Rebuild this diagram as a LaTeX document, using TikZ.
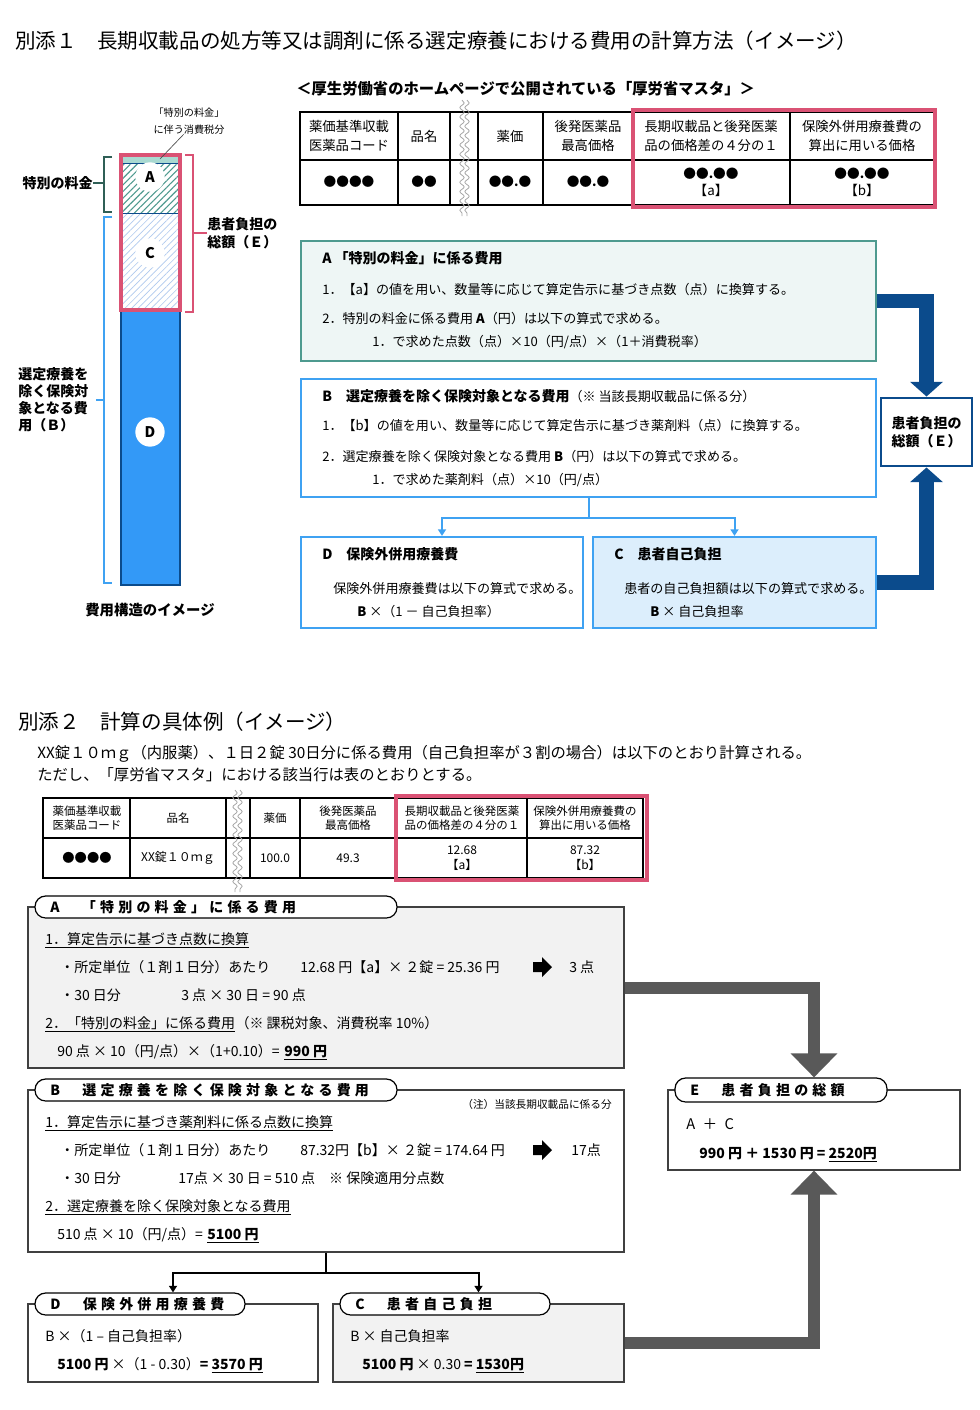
\documentclass[tikz,border=0pt]{standalone}
\usepackage{fontspec}
\setmainfont{Noto Sans CJK JP}
\usetikzlibrary{arrows.meta, positioning, fit, patterns.meta, decorations.pathmorphing}

\definecolor{tealline}{HTML}{4E9A8F}
\definecolor{tealfill}{HTML}{EEF6F5}
\definecolor{tealdark}{HTML}{2F5F56}
\definecolor{tealstrip}{HTML}{A9D9D1}
\definecolor{skyline}{HTML}{3FA2F2}
\definecolor{skyfill}{HTML}{DCEEFC}
\definecolor{skyhatch}{HTML}{AFC9EE}
\definecolor{navy}{HTML}{0B4B8C}
\definecolor{barblue}{HTML}{3399F7}
\definecolor{rose}{HTML}{DA5274}
\definecolor{arrowgray}{HTML}{595959}
\definecolor{panelgray}{HTML}{F2F2F2}

\newcommand\fsz[2]{\fontsize{#1}{#2}\selectfont}

\begin{document}
\begin{tikzpicture}[
  x=0.75pt, y=-0.75pt,
  txt/.style={anchor=base west, inner sep=0pt},
  body/.style={txt, font=\fsz{9.8}{12}},
  head/.style={txt, font=\fsz{10.5}{12}\bfseries},
  lowtxt/.style={txt, font=\fsz{10.5}{12}},
  cell/.style={align=center, inner sep=0pt, font=\fsz{10}{14}},
  smallcell/.style={align=center, inner sep=0pt, font=\fsz{8.6}{11}},
  grid/.style={draw=black, line width=0.8pt},
  wavy/.style={draw=gray!70, line width=0.6pt, decorate,
               decoration={snake, amplitude=1.6pt, segment length=7pt}},
  pinkframe/.style={draw=rose, line width=3pt, inner sep=0pt},
  topbox/.style={draw=skyline, line width=1.6pt, inner sep=0pt},
  lowbox/.style={draw=black!75, line width=0.9pt, inner sep=0pt},
  pill/.style={draw=black, line width=0.9pt, fill=white, rounded corners=8pt, inner sep=0pt},
  pilltext/.style={txt, font=\fsz{10.5}{12}\bfseries\addfontfeatures{LetterSpace=30}},
  letter/.style={circle, fill=white, minimum size=22pt, inner sep=0pt, font=\fsz{11}{12}\bfseries},
  navyarrow/.style={draw=navy, line width=11pt, line join=miter, -{Triangle[length=11pt, width=24pt]}},
  grayarrow/.style={draw=arrowgray, line width=9pt, line join=miter, -{Triangle[length=18pt, width=34pt]}},
  skyconn/.style={draw=skyline, line width=1.5pt},
  skytip/.style={skyconn, -{Triangle[length=5pt, width=6pt]}},
  blkconn/.style={draw=black, line width=1.5pt},
  blktip/.style={blkconn, -{Triangle[length=5pt, width=6pt]}}
]

\fill[white] (0,0) rectangle (980,1410);
\useasboundingbox (0,0) rectangle (980,1410);

% ---------- 別添1 ----------
\node[txt, font=\fsz{15.4}{18}] (title1) at (15,48)
  {別添１　長期収載品の処方等又は調剤に係る選定療養における費用の計算方法（イメージ）};
\node[txt, font=\fsz{11.5}{14}\bfseries] (master) at (296,94)
  {＜厚生労働省のホームページで公開されている「厚労省マスタ」＞};

% master table
\draw[grid] (300,112) rectangle (935,205);
\draw[grid] (300,160) -- (935,160);
\foreach \x in {398,450,478,543,633,790}
  \draw[grid] (\x,112) -- (\x,205);
\foreach \x in {462,467}
  \draw[wavy] (\x,100) -- (\x,216);
\node[cell] (h1) at (349,136) {薬価基準収載\\医薬品コード};
\node[cell] (h2) at (424,136) {品名};
\node[cell] (h3) at (510,136) {薬価};
\node[cell] (h4) at (588,136) {後発医薬品\\最高価格};
\node[cell] (h5) at (711,136) {長期収載品と後発医薬\\品の価格差の４分の１};
\node[cell] (h6) at (862,136) {保険外併用療養費の\\算出に用いる価格};
\node[cell, font=\fsz{9.5}{14}\bfseries] (d1) at (349,182) {●●●●};
\node[cell, font=\fsz{9.5}{14}\bfseries] (d2) at (424,182) {●●};
\node[cell, font=\fsz{9.5}{14}\bfseries] (d3) at (510,182) {●●.●};
\node[cell, font=\fsz{9.5}{14}\bfseries] (d4) at (588,182) {●●.●};
\node[cell, font=\fsz{9.5}{13}\bfseries] (d5) at (711,182) {●●.●●\\{\mdseries\fsz{10}{12}【a】}};
\node[cell, font=\fsz{9.5}{13}\bfseries] (d6) at (862,182) {●●.●●\\{\mdseries\fsz{10}{12}【b】}};
\node[pinkframe, fit={(633,110) (935,207)}] (masterpink) {};

% cost bar
\fill[barblue] (121,310) rectangle (180,585);
\draw[navy, line width=0.8pt] (121,310) rectangle (180,585);
\fill[pattern={Lines[angle=45, distance=3.5pt, line width=0.5pt]}, pattern color=skyhatch]
  (121,213) rectangle (180,310);
\fill[pattern={Lines[angle=45, distance=3.5pt, line width=0.8pt]}, pattern color=tealline]
  (121,163) rectangle (180,213);
\fill[tealstrip] (121,155) rectangle (180,163);
\draw[navy, line width=0.6pt] (121,163) -- (180,163) (121,213) -- (180,213);
\draw[rose, line width=3pt] (121,155) rectangle (180,310);
\node[letter] (barA) at (150,177) {A};
\node[letter] (barC) at (150,253) {C};
\node[letter] (barD) at (150,432) {D};

\node[align=center, inner sep=0pt, font=\fsz{7.6}{12.5}] (taxnote) at (189,121)
  {「特別の料金」\\に伴う消費税分};
\coordinate (stripA) at (160,159);
\draw[black!70, line width=0.5pt] ([xshift=-4pt]taxnote.south) -- (stripA);

\draw[tealdark, line width=1.5pt] (112,157) -- (104,157) -- (104,212) -- (112,212);
\node[anchor=east, inner sep=0pt, font=\fsz{10.5}{13}\bfseries] (speclabel) at (93,183) {特別の料金};
\draw[tealdark, line width=1.5pt] (speclabel.east) -- (104,183);

\draw[skyline, line width=1.5pt] (112,217) -- (104,217) -- (104,583) -- (112,583);
\node[anchor=west, align=left, inner sep=0pt, font=\fsz{10.5}{12.75}\bfseries] (blabel) at (18,400)
  {選定療養を\\除く保険対\\象となる費\\用（Ｂ）};
\draw[skyline, line width=1.5pt] (96,400) -- (104,400);

\draw[rose, line width=1.5pt] (185,155) -- (193,155) -- (193,312) -- (185,312);
\node[anchor=west, align=left, inner sep=0pt, font=\fsz{10.5}{13.5}\bfseries] (elabel) at (207,233)
  {患者負担の\\総額（Ｅ）};
\draw[rose, line width=1.5pt] (193,233) -- (elabel.west);

\node[inner sep=0pt, font=\fsz{10.8}{13}\bfseries] (barcaption) at (150,610) {費用構造のイメージ};

% boxes A, B, D, C, E
\node[topbox, draw=tealline, fill=tealfill, fit={(301,241) (876,361)}] (topA) {};
\node[head] (topAt) at (322,263) {A 「特別の料金」に係る費用};
\node[body] (topA1) at (322,294) {1．【a】の値を用い、数量等に応じて算定告示に基づき点数（点）に換算する。};
\node[body] (topA2) at (322,323) {2．特別の料金に係る費用 \textbf{A}（円）は以下の算式で求める。};
\node[body] (topA3) at (372,346) {1．で求めた点数（点）×10（円/点）×（1＋消費税率）};

\node[topbox, fill=white, fit={(301,379) (876,497)}] (topB) {};
\node[head] (topBt) at (322,401) {B　選定療養を除く保険対象となる費用{\mdseries\fsz{9.8}{12}（※ 当該長期収載品に係る分）}};
\node[body] (topB1) at (322,430) {1．【b】の値を用い、数量等に応じて算定告示に基づき薬剤料（点）に換算する。};
\node[body] (topB2) at (322,461) {2．選定療養を除く保険対象となる費用 \textbf{B}（円）は以下の算式で求める。};
\node[body] (topB3) at (372,484) {1．で求めた薬剤料（点）×10（円/点）};

\node[topbox, fill=white, fit={(301,537) (583,628)}] (topD) {};
\node[head] (topDt) at (322,559) {D　保険外併用療養費};
\node[body] (topD1) at (333,593) {保険外併用療養費は以下の算式で求める。};
\node[body] (topD2) at (357,616) {\textbf{B} ×（1 － 自己負担率）};

\node[topbox, fill=skyfill, fit={(593,537) (876,628)}] (topC) {};
\node[head] (topCt) at (614,559) {C　患者自己負担};
\node[body] (topC1) at (624,593) {患者の自己負担額は以下の算式で求める。};
\node[body] (topC2) at (650,616) {\textbf{B} × 自己負担率};

\node[topbox, draw=navy, line width=2.2pt, fill=white, fit={(881,398) (972,466)}] (topE) {};
\node[align=center, inner sep=0pt, font=\fsz{10.5}{13.5}\bfseries] (topEt) at (topE.center)
  {患者負担の\\総額（Ｅ）};

\draw[skyconn] (topB.south) -- ++(0,20) coordinate (topsplit);
\draw[skytip] (topsplit) -| (topD.north);
\draw[skytip] (topsplit) -| (topC.north);
\draw[navyarrow] (topA.east) -| (topE.north);
\draw[navyarrow] (topC.east) -| (topE.south);

% ---------- 別添2 ----------
\node[txt, font=\fsz{15.4}{18}] (title2) at (18,729) {別添２　計算の具体例（イメージ）};
\node[txt, font=\fsz{11.5}{13}] (intro1) at (37,758)
  {XX錠１０ｍｇ（内服薬）、１日２錠 30日分に係る費用（自己負担率が３割の場合）は以下のとおり計算される。};
\node[txt, font=\fsz{11.5}{13}] (intro2) at (37,780)
  {ただし、「厚労省マスタ」における該当行は表のとおりとする。};

% example table
\draw[grid] (43,798) rectangle (643,878);
\draw[grid] (43,838) -- (643,838);
\foreach \x in {130,226,250,300,397,527}
  \draw[grid] (\x,798) -- (\x,878);
\foreach \x in {235,240}
  \draw[wavy] (\x,790) -- (\x,892);
\node[smallcell] (g1) at (87,818) {薬価基準収載\\医薬品コード};
\node[smallcell] (g2) at (178,818) {品名};
\node[smallcell] (g3) at (275,818) {薬価};
\node[smallcell] (g4) at (348,818) {後発医薬品\\最高価格};
\node[smallcell] (g5) at (462,818) {長期収載品と後発医薬\\品の価格差の４分の１};
\node[smallcell] (g6) at (585,818) {保険外併用療養費の\\算出に用いる価格};
\node[smallcell, font=\fsz{9.2}{13}\bfseries] (e1) at (87,858) {●●●●};
\node[smallcell, font=\fsz{9}{11}] (e2) at (178,858) {XX錠１０ｍｇ};
\node[smallcell, font=\fsz{9}{11}] (e3) at (275,858) {100.0};
\node[smallcell, font=\fsz{9}{11}] (e4) at (348,858) {49.3};
\node[smallcell, font=\fsz{9}{11}] (e5) at (462,858) {12.68\\【a】};
\node[smallcell, font=\fsz{9}{11}] (e6) at (585,858) {87.32\\【b】};
\node[pinkframe, fit={(396,796) (647,880)}] (examplepink) {};

% box A
\node[lowbox, fill=panelgray, fit={(28,907) (624,1068)}] (lowA) {};
\node[pill, fit={(35,896) (397,918)}] (lowApill) {};
\node[pilltext] (lowAt) at (50,912) {A　「特別の料金」に係る費用};
\node[lowtxt] (lowA1) at (45,944) {\underline{1．算定告示に基づき点数に換算}};
\node[lowtxt] (lowA2) at (60,972) {・所定単位（１剤１日分）あたり};
\node[lowtxt] (lowA3) at (300,972) {12.68 円【a】× ２錠 = 25.36 円};
\node[lowtxt] (lowA4) at (569,972) {3 点};
\node[lowtxt] (lowA5) at (60,1000) {・30 日分};
\node[lowtxt] (lowA6) at (181,1000) {3 点 × 30 日 = 90 点};
\node[lowtxt] (lowA7) at (45,1028) {\underline{2．「特別の料金」に係る費用}};
\node[lowtxt] (lowA8) at (lowA7.base east) {（※ 課税対象、消費税率 10\%）};
\node[lowtxt] (lowA9) at (57,1056) {90 点 × 10（円/点）×（1+0.10）= };
\node[lowtxt, font=\fsz{10.5}{12}\bfseries] (lowA10) at ([xshift=3pt]lowA9.base east) {\underline{990 円}};

% box B
\node[lowbox, fill=white, fit={(28,1090) (624,1252)}] (lowB) {};
\node[pill, fit={(35,1079) (397,1101)}] (lowBpill) {};
\node[pilltext] (lowBt) at (50,1095) {B　選定療養を除く保険対象となる費用};
\node[anchor=base east, inner sep=0pt, font=\fsz{8}{10}] (lowBnote) at (612,1108) {（注）当該長期収載品に係る分};
\node[lowtxt] (lowB1) at (45,1127) {\underline{1．算定告示に基づき薬剤料に係る点数に換算}};
\node[lowtxt] (lowB2) at (60,1155) {・所定単位（１剤１日分）あたり};
\node[lowtxt] (lowB3) at (300,1155) {87.32円【b】× ２錠 = 174.64 円};
\node[lowtxt] (lowB4) at (571,1155) {17点};
\node[lowtxt] (lowB5) at (60,1183) {・30 日分};
\node[lowtxt] (lowB6) at (178,1183) {17点 × 30 日 = 510 点　※ 保険適用分点数};
\node[lowtxt] (lowB7) at (45,1211) {\underline{2．選定療養を除く保険対象となる費用}};
\node[lowtxt] (lowB8) at (57,1239) {510 点 × 10（円/点）= };
\node[lowtxt, font=\fsz{10.5}{12}\bfseries] (lowB9) at ([xshift=3pt]lowB8.base east) {\underline{5100 円}};

% small black arrows
\foreach \ay in {967,1150}
  \fill[black] (533,\ay-5) -- (542,\ay-5) -- (542,\ay-10) -- (552,\ay)
    -- (542,\ay+10) -- (542,\ay+5) -- (533,\ay+5) -- cycle;

% box D
\node[lowbox, fill=white, fit={(28,1304) (318,1382)}] (lowD) {};
\node[pill, fit={(35,1293) (245,1315)}] (lowDpill) {};
\node[pilltext] (lowDt) at (50,1309) {D　保険外併用療養費};
\node[lowtxt] (lowD1) at (45,1341) {B ×（1 – 自己負担率）};
\node[lowtxt] (lowD2) at (57,1369) {\textbf{5100 円} ×（1 - 0.30）\textbf{= \underline{3570 円}}};

% box C
\node[lowbox, fill=panelgray, fit={(333,1304) (624,1382)}] (lowC) {};
\node[pill, fit={(340,1293) (550,1315)}] (lowCpill) {};
\node[pilltext] (lowCt) at (355,1309) {C　患者自己負担};
\node[lowtxt] (lowC1) at (350,1341) {B × 自己負担率};
\node[lowtxt] (lowC2) at (362,1369) {\textbf{5100 円} × 0.30 \textbf{= \underline{1530円}}};

% box E
\node[lowbox, fill=white, fit={(668,1090) (960,1170)}] (lowE) {};
\node[pill, fit={(675,1078) (887,1102)}] (lowEpill) {};
\node[pilltext] (lowEt) at (690,1095) {E　患者負担の総額};
\node[lowtxt, font=\fsz{11}{13}] (lowE1) at (686,1129) {A\enspace＋\enspace C};
\node[lowtxt, font=\fsz{10.5}{12}\bfseries] (lowE2) at (699,1158) {990 円 ＋ 1530 円 = \underline{2520円}};

\draw[blkconn] (lowB.south) -- ++(0,20) coordinate (lowsplit);
\draw[blktip] (lowsplit) -| (lowD.north |- lowDpill.north);
\draw[blktip] (lowsplit) -| (lowC.north |- lowCpill.north);
\draw[grayarrow] (lowA.east) -| (lowE.north |- lowEpill.north);
\draw[grayarrow] (lowC.east) -| (lowE.south);

\end{tikzpicture}
\end{document}
